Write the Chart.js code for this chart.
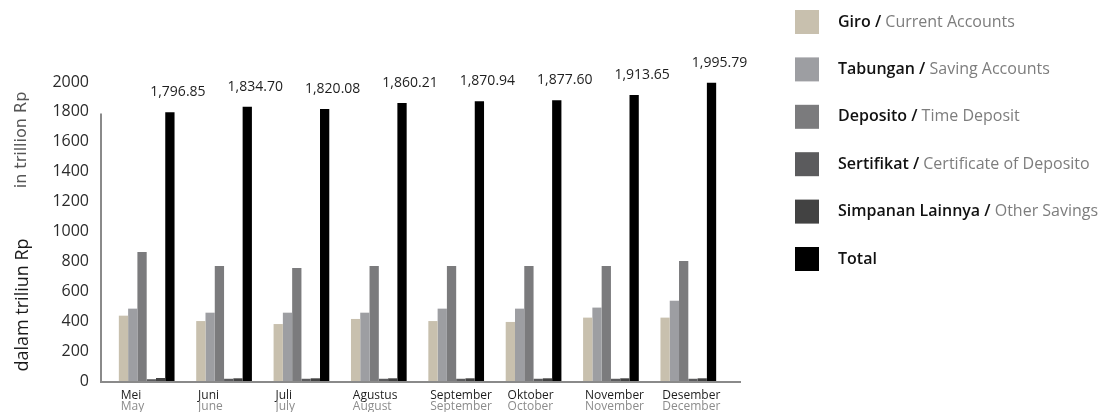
<!DOCTYPE html>
<html>
<head>
<meta charset="utf-8">
<script src="https://cdn.jsdelivr.net/npm/chart.js@4.4.1/dist/chart.umd.min.js"></script>
<style>
  html, body { margin: 0; padding: 0; background: #fff; }
  #wrap { width: 1118px; height: 412px; }
</style>
</head>
<body>
<div id="wrap"><canvas id="grafik" width="1118" height="412"></canvas></div>
<script>
  // bulan (Indonesia / English)
  const bulan = ['Mei', 'Juni', 'Juli', 'Agustus', 'September', 'Oktober', 'November', 'Desember'];
  const months = ['May', 'June', 'July', 'August', 'September', 'October', 'November', 'December'];

  // nilai dalam triliun Rp
  const giro = [437, 401, 381, 415, 401, 395, 424, 424];
  const tabungan = [484, 457, 457, 457, 484, 484, 491, 537];
  const deposito = [863, 769, 756, 769, 769, 769, 769, 803];
  const sertifikat = [12, 15, 15, 15, 15, 15, 15, 15];
  const lainnya = [20, 18, 18, 18, 18, 18, 18, 18];
  const total = [1796.85, 1834.70, 1820.08, 1860.21, 1870.94, 1877.60, 1913.65, 1995.79];

  const yTicks = [0, 200, 400, 600, 800, 1000, 1200, 1400, 1600, 1800, 2000];

  const seri = [
    { id: 'Giro', en: 'Current Accounts', data: giro, warna: '#c8c0ae' },
    { id: 'Tabungan', en: 'Saving Accounts', data: tabungan, warna: '#9d9ea2' },
    { id: 'Deposito', en: 'Time Deposit', data: deposito, warna: '#7b7b7d' },
    { id: 'Sertifikat', en: 'Certificate of Deposito', data: sertifikat, warna: '#5b5b5d' },
    { id: 'Simpanan Lainnya', en: 'Other Savings', data: lainnya, warna: '#424242' },
    { id: 'Total', en: '', data: total, warna: '#000000' }
  ];

  const FONT = '"Open Sans", "Noto Sans", sans-serif';

  function formatAngka(v) {
    return v.toLocaleString('en-US', { minimumFractionDigits: 2, maximumFractionDigits: 2 });
  }

  // garis sumbu, label nilai total, label bulan, judul sumbu, legenda
  const hiasan = {
    id: 'hiasan',
    afterDatasetsDraw(chart) {
      const ctx = chart.ctx;
      const area = chart.chartArea;
      const xs = chart.scales.x;
      const ys = chart.scales.y;
      ctx.save();

      // sumbu
      ctx.strokeStyle = '#8a8a8a';
      ctx.lineWidth = 2;
      ctx.beginPath();
      ctx.moveTo(area.left - 7, ys.getPixelForValue(1790));
      ctx.lineTo(area.left - 7, area.bottom + 1);
      ctx.lineTo(area.right + 14, area.bottom + 1);
      ctx.stroke();

      // label total
      const meta = chart.getDatasetMeta(5);
      ctx.font = '14px ' + FONT;
      ctx.fillStyle = '#1e1e1e';
      ctx.textAlign = 'center';
      ctx.textBaseline = 'middle';
      meta.data.forEach((bar, i) => {
        ctx.fillText(formatAngka(total[i]), bar.x + 8, bar.y - 20);
      });

      // label bulan
      ctx.textAlign = 'left';
      ctx.textBaseline = 'alphabetic';
      bulan.forEach((b, i) => {
        const x = xs.getPixelForValue(i) - 26;
        ctx.font = '12px ' + FONT;
        ctx.fillStyle = '#1e1e1e';
        ctx.fillText(b, x, 399);
        ctx.fillStyle = '#8c8c8c';
        ctx.fillText(months[i], x, 410);
      });

      // judul sumbu y
      ctx.save();
      ctx.translate(22, 0);
      ctx.rotate(-Math.PI / 2);
      ctx.textAlign = 'center';
      ctx.textBaseline = 'middle';
      ctx.font = '16px "DejaVu Sans", sans-serif';
      ctx.fillStyle = '#555';
      ctx.fillText('in trillion Rp', -140, 0);
      ctx.font = '18px ' + FONT;
      ctx.fillStyle = '#1a1a1a';
      ctx.fillText('dalam triliun Rp', -305, 1);
      ctx.restore();

      // legenda
      const lx = 795, ly = 22, jarak = 47.4;
      ctx.textBaseline = 'middle';
      ctx.textAlign = 'left';
      seri.forEach((s, i) => {
        const cy = ly + i * jarak;
        ctx.fillStyle = s.warna;
        ctx.fillRect(lx, cy - 12, 24, 24);
        let tx = 838;
        const depan = s.en ? s.id + ' / ' : s.id;
        ctx.font = '600 16px ' + FONT;
        ctx.fillStyle = '#111';
        ctx.fillText(depan, tx, cy);
        if (s.en) {
          tx += ctx.measureText(depan).width;
          ctx.font = '16px ' + FONT;
          ctx.fillStyle = '#7d7d7d';
          ctx.fillText(s.en, tx, cy);
        }
      });

      ctx.restore();
    }
  };

  const ctx = document.getElementById('grafik').getContext('2d');
  window.grafik = new Chart(ctx, {
    type: 'bar',
    data: {
      labels: bulan,
      datasets: seri.map(s => ({
        label: s.id,
        data: s.data,
        backgroundColor: s.warna,
        borderWidth: 0,
        categoryPercentage: 0.72,
        barPercentage: 1.0
      }))
    },
    options: {
      responsive: false,
      animation: false,
      devicePixelRatio: 1,
      layout: { padding: { top: 82, right: 391, left: 0, bottom: 0 } },
      plugins: {
        legend: { display: false },
        tooltip: { enabled: false }
      },
      scales: {
        x: {
          offset: true,
          grid: { display: false, drawTicks: false },
          border: { display: false },
          ticks: { display: false },
          afterFit: s => { s.height = 31; }
        },
        y: {
          min: 0,
          max: 2000,
          grid: { display: false, drawTicks: false },
          border: { display: false },
          afterBuildTicks: s => { s.ticks = yTicks.map(v => ({ value: v })); },
          ticks: {
            padding: 19,
            color: '#2a2a2a',
            font: { family: FONT, size: 16 },
            callback: v => String(v)
          },
          afterFit: s => { s.width = 108; }
        }
      }
    },
    plugins: [hiasan]
  });
</script>
</body>
</html>
